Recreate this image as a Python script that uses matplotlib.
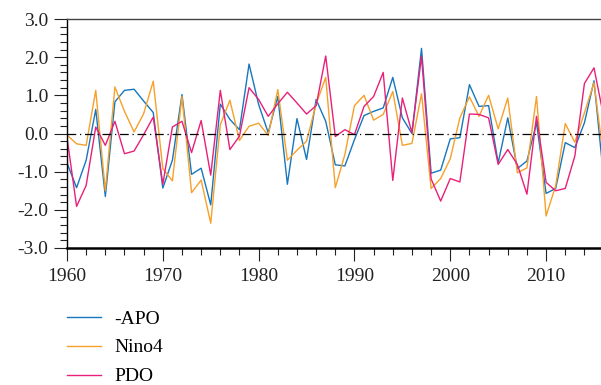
import numpy as np
import matplotlib
matplotlib.use("Agg")
import matplotlib.pyplot as plt
from matplotlib.ticker import MultipleLocator, FormatStrFormatter

plt.rcParams['font.family'] = ['Liberation Serif', 'DejaVu Serif']
plt.rcParams['axes.unicode_minus'] = False

years = np.arange(1960, 2017)

# -APO (blue)
apo = [-0.77, -1.42, -0.70, 0.63, -1.65, 0.83, 1.13, 1.16, 0.85, 0.55,
       -1.43, -0.70, 1.02, -1.07, -0.91, -1.87, 0.77, 0.37, 0.10, 1.82,
       0.76, 0.02, 0.97, -1.33, 0.39, -0.68, 0.89, 0.32, -0.82, -0.85,
       -0.16, 0.47, 0.58, 0.67, 1.47, 0.41, 0.00, 2.23, -1.04, -0.96,
       -0.14, -0.11, 1.28, 0.71, 0.73, -0.77, 0.41, -0.92, -0.72, 0.28,
       -1.57, -1.44, -0.24, -0.37, 0.28, 1.38, -1.15]

# Nino4 (orange)
nino4 = [-0.04, -0.27, -0.31, 1.13, -1.50, 1.22, 0.58, 0.04, 0.52, 1.37,
         -0.92, -1.24, 0.97, -1.55, -1.22, -2.35, 0.23, 0.87, -0.18, 0.19,
         0.27, -0.05, 1.15, -0.70, -0.44, -0.20, 0.77, 1.47, -1.42, -0.55,
         0.73, 1.00, 0.35, 0.50, 1.10, -0.31, -0.26, 1.04, -1.44, -1.18,
         -0.66, 0.41, 0.96, 0.45, 1.00, 0.12, 0.93, -1.03, -0.90, 0.97,
         -2.16, -1.37, 0.26, -0.23, 0.54, 1.33, -0.65]

# PDO (pink)
pdo = [-0.10, -1.91, -1.36, 0.17, -0.31, 0.32, -0.53, -0.46, -0.03, 0.43,
       -1.33, 0.17, 0.32, -0.50, 0.34, -1.09, 1.13, -0.42, -0.07, 1.20,
       0.89, 0.45, 0.78, 1.08, 0.80, 0.51, 0.73, 2.03, -0.08, 0.10,
       -0.03, 0.71, 0.97, 1.60, -1.23, 0.93, 0.02, 2.02, -1.19, -1.77,
       -1.18, -1.27, 0.51, 0.50, 0.41, -0.81, -0.42, -0.81, -1.59, 0.45,
       -1.28, -1.50, -1.44, -0.59, 1.31, 1.72, 0.45]

labels = ['-APO', 'Nino4', 'PDO']
colors = ['#1777bd', '#f7a02a', '#e8207a']

fig = plt.figure(figsize=(6.01, 3.85), dpi=100)
ax = fig.add_axes([67 / 601, 1 - 248 / 385, 1 - 67 / 601, (248 - 19) / 385])

for vals, lab, col in zip([apo, nino4, pdo], labels, colors):
    ax.plot(years, vals, color=col, lw=1.0, label=lab)

ax.axhline(0, color='black', lw=0.9, ls=(0, (7, 3, 1, 3)))

ax.set_xlim(1960, 2015.73)
ax.set_ylim(-3, 3)
ax.xaxis.set_major_locator(MultipleLocator(10))
ax.xaxis.set_minor_locator(MultipleLocator(2))
ax.yaxis.set_major_locator(MultipleLocator(1))
ax.yaxis.set_minor_locator(MultipleLocator(0.2))
ax.yaxis.set_major_formatter(FormatStrFormatter('%.1f'))

ax.tick_params(which='major', direction='out', length=9.4, width=0.8,
               labelsize=14, colors='#222222')
ax.tick_params(which='minor', direction='out', length=5, width=0.8, colors='#222222')
ax.tick_params(axis='x', which='major', pad=5)
ax.tick_params(axis='y', which='major', pad=4)

ax.spines['right'].set_visible(False)
ax.spines['top'].set_linewidth(1.0)
ax.spines['top'].set_color('#444444')
ax.spines['left'].set_linewidth(1.0)
ax.spines['bottom'].set_linewidth(1.8)

fig.legend(loc='upper left', bbox_to_anchor=(67 / 601, 1 - 310 / 385),
           frameon=False, fontsize=14, borderpad=0, borderaxespad=0,
           handlelength=1.75, handletextpad=0.7, labelspacing=0.58)

fig.savefig('out.png', dpi=100)
